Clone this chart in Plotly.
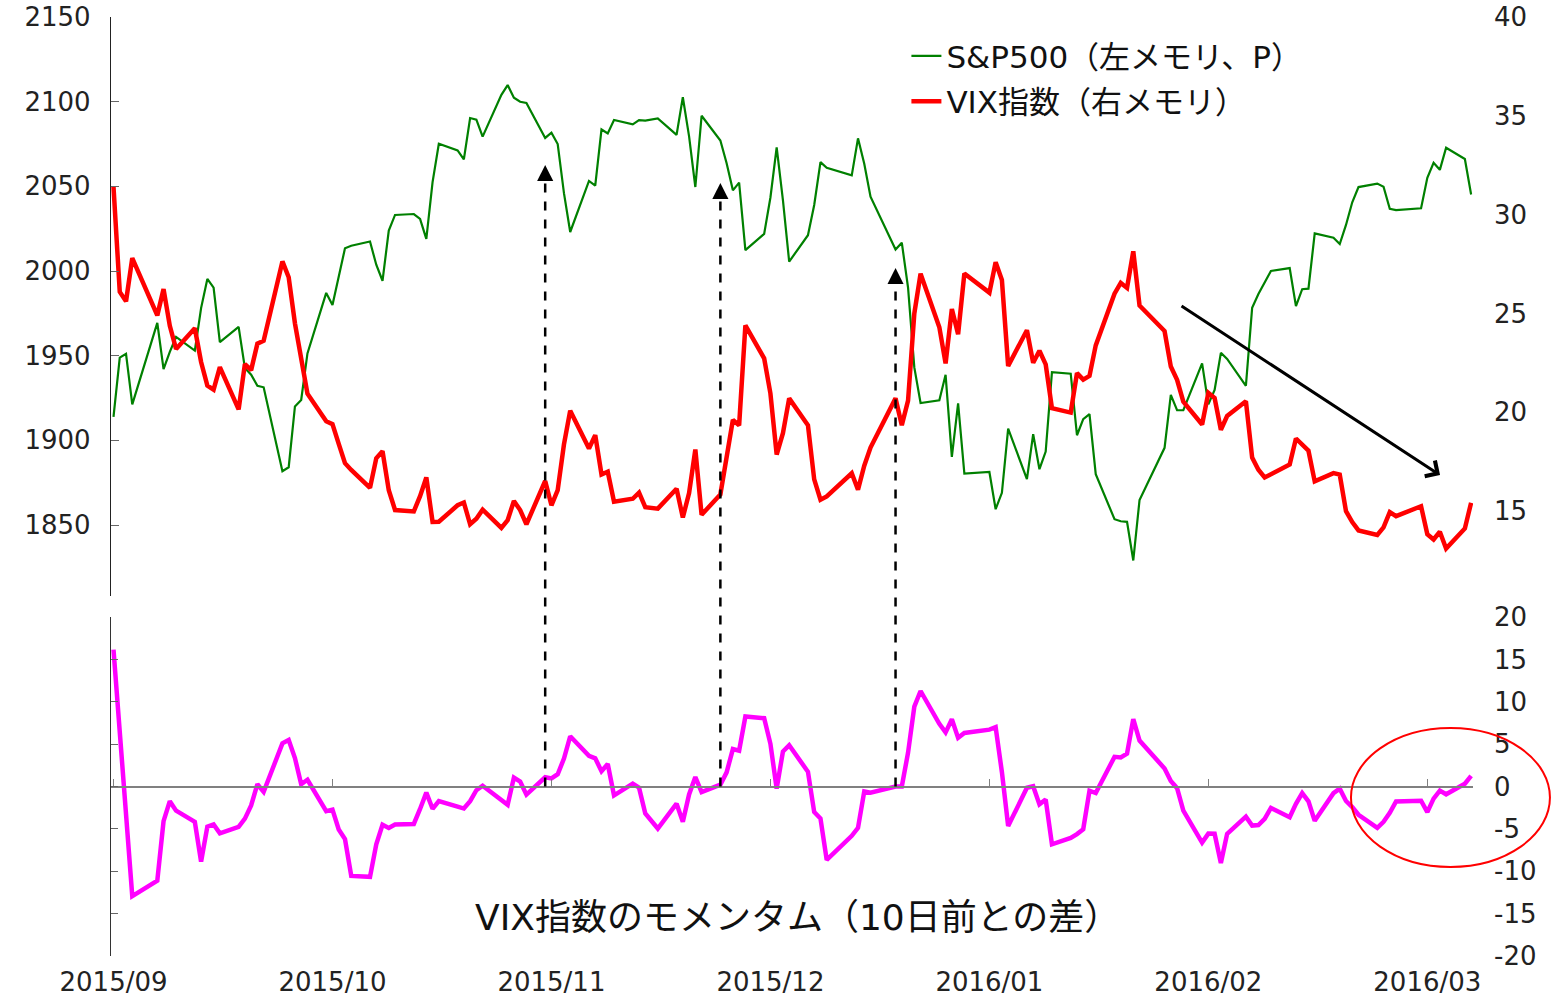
import plotly.graph_objects as go

# ---------------- data ----------------
sep_days = [1, 2, 3, 4, 8, 9, 10, 11, 14, 15, 16, 17, 18, 21, 22, 23, 24, 25, 28, 29, 30]
oct_days = [1, 2, 5, 6, 7, 8, 9, 12, 13, 14, 15, 16, 19, 20, 21, 22, 23, 26, 27, 28, 29, 30]
nov_days = [2, 3, 4, 5, 6, 9, 10, 11, 12, 13, 16, 17, 18, 19, 20, 23, 24, 25, 27, 30]
dec_days = [1, 2, 3, 4, 7, 8, 9, 10, 11, 14, 15, 16, 17, 18, 21, 22, 23, 24, 28, 29, 30, 31]
jan_days = [4, 5, 6, 7, 8, 11, 12, 13, 14, 15, 19, 20, 21, 22, 25, 26, 27, 28, 29]
feb_days = [1, 2, 3, 4, 5, 8, 9, 10, 11, 12, 16, 17, 18, 19, 22, 23, 24, 25, 26, 29]
mar_days = [1, 2, 3, 4, 7, 8, 9, 10, 11, 14, 15, 16, 17, 18, 21, 22, 23, 24, 28, 29, 30, 31]
apr_days = [1, 4, 5]

sp500 = [
    1913.85, 1948.86, 1951.13, 1921.22, 1969.41, 1942.04, 1952.29, 1961.05, 1953.03, 1978.09, 1995.31,
    1990.20, 1958.03, 1966.97, 1942.74, 1938.76, 1932.24, 1931.34, 1881.77, 1884.09, 1920.03,
    1923.82, 1951.36, 1987.05, 1979.92, 1995.83, 2013.43, 2014.89, 2017.46, 2003.69, 1994.24, 2023.86,
    2033.11, 2033.66, 2030.77, 2018.94, 2052.51, 2075.15, 2071.18, 2065.89, 2090.35, 2089.41, 2079.36,
    2104.05, 2109.79, 2102.31, 2099.93, 2099.20, 2078.58, 2081.72, 2075.00, 2045.97, 2023.04, 2053.19,
    2050.44, 2083.58, 2081.24, 2089.17, 2086.59, 2089.14, 2088.87, 2090.11, 2080.41,
    2102.63, 2079.51, 2049.62, 2091.69, 2077.07, 2063.59, 2047.62, 2052.23, 2012.37, 2021.94, 2043.41,
    2073.07, 2041.89, 2005.55, 2021.15, 2038.97, 2064.29, 2060.99, 2056.50, 2078.36, 2063.36, 2043.94,
    2012.66, 2016.71, 1990.26, 1943.09, 1922.03, 1923.67, 1938.68, 1890.28, 1921.84, 1880.33, 1881.33,
    1859.33, 1868.99, 1906.90, 1877.08, 1903.63, 1882.95, 1893.36, 1940.24,
    1939.38, 1903.03, 1912.53, 1915.45, 1880.05, 1853.44, 1852.21, 1851.86, 1829.08, 1864.78, 1895.58,
    1926.82, 1917.83, 1917.78, 1945.50, 1921.27, 1929.80, 1951.70, 1948.05, 1932.23,
    1978.35, 1986.45, 1993.40, 1999.99, 2001.76, 1979.26, 1989.26, 1989.57, 2022.19, 2019.64, 2015.93,
    2027.22, 2040.59, 2049.58, 2051.60, 2049.80, 2036.71, 2035.94, 2037.05, 2055.01, 2063.95, 2059.74,
    2072.78, 2066.13, 2045.17,
]

vix = [
    31.40, 26.09, 25.61, 27.80, 24.90, 26.23, 24.37, 23.20, 24.25, 22.54, 21.35, 21.14, 22.28, 20.14,
    22.44, 22.13, 23.47, 23.62, 27.63, 26.83, 24.50,
    22.55, 20.94, 19.54, 19.40, 18.40, 17.42, 17.08, 16.17, 17.67, 18.03, 16.05, 15.05, 14.98, 15.75,
    16.70, 14.45, 14.46, 15.29, 15.43, 14.33, 14.61, 15.07,
    14.15, 14.54, 15.51, 15.05, 14.33, 16.52, 15.29, 16.06, 18.37, 20.08, 18.16, 18.84, 16.85, 16.99,
    15.47, 15.62, 15.93, 15.19, 15.12, 16.13,
    14.67, 15.91, 18.11, 14.81, 15.84, 17.60, 19.61, 19.34, 24.39, 22.73, 20.95, 17.86, 18.94, 20.70,
    19.34, 16.60, 15.57, 15.74, 16.91, 16.08, 17.29, 18.21,
    20.70, 19.34, 20.59, 24.99, 27.01, 24.30, 22.47, 25.22, 23.95, 27.02, 26.05, 27.59, 26.69, 22.34,
    24.15, 22.50, 23.11, 22.42, 20.20,
    19.98, 21.98, 21.65, 21.84, 23.38, 26.00, 26.54, 26.29, 28.14, 25.40, 24.11, 22.31, 21.64, 20.53,
    19.38, 20.98, 20.72, 19.11, 19.81, 20.55,
    17.70, 17.09, 16.70, 16.86, 17.35, 18.67, 18.34, 18.05, 16.50, 16.92, 16.84, 14.99, 14.44, 14.02,
    13.79, 14.17, 14.94, 14.74, 15.24, 13.82, 13.56, 13.95,
    13.10, 14.12, 15.42,
]

vix_momentum = [
    16.15, 6.95, -2.42, -12.94, -11.12, -4.09, -1.73, -2.85, -4.18, -8.86, -4.74, -4.47, -5.52, -4.76,
    -3.79, -2.24, 0.27, -0.63, 5.09, 5.48, 3.36,
    0.27, 0.80, -2.90, -2.73, -5.07, -6.20, -10.55, -10.66, -6.83, -4.52, -4.89, -4.49, -4.42, -2.65,
    -0.72, -2.63, -1.71, -2.38, -2.60, -1.72, -0.44, 0.09,
    -1.60, -2.16, 1.06, 0.59, -0.96, 1.09, 0.96, 1.45, 3.30, 5.93, 3.62, 3.33, 1.80, 2.66, -1.05, 0.33,
    -0.13, -3.18, -4.96, -2.03,
    -4.17, -0.94, 1.12, -0.66, 0.22, 1.67, 4.42, 4.22, 8.26, 8.06, 5.04, -0.25, 4.13, 4.86, 1.74, -3.01,
    -3.77, -8.65, -5.82, -4.87, -0.57, -0.73,
    0.00, 0.00, 3.99, 9.42, 11.27, 7.39, 6.39, 7.93, 5.74, 6.32, 6.71, 7.00, 1.70, -4.67, -0.15, 0.03,
    -2.11, -1.53, -6.82,
    -6.07, -5.61, -5.04, -0.50, -0.77, 3.50, 3.43, 3.87, 7.94, 5.42, 2.13, 0.66, -0.20, -2.85, -6.62,
    -5.56, -5.57, -9.03, -5.59, -3.56,
    -4.61, -4.55, -3.83, -2.52, -3.63, -2.05, -0.77, -1.76, -4.05, -0.78, -0.25, -1.71, -2.42, -3.33,
    -4.88, -4.17, -3.11, -1.76, -1.68, -3.02, -1.43, -0.49,
    -0.92, 0.33, 1.25,
]

tick_dates = ["2015-09-01", "2015-10-06", "2015-11-10", "2015-12-15", "2016-01-19", "2016-02-23", "2016-03-29"]
tick_labels = ["2015/09", "2015/10", "2015/11", "2015/12", "2016/01", "2016/02", "2016/03"]

sp_ticks = [1850, 1900, 1950, 2000, 2050, 2100, 2150]
vix_ticks = [15, 20, 25, 30, 35, 40]
mom_ticks = [-20, -15, -10, -5, 0, 5, 10, 15, 20]
mom_labels = ["-20", "-15", "-10", "-5", "0", "5", "10", "15", "20"]

signal_dates = ["2015-11-09", "2015-12-07", "2016-01-04"]

# ---------------- build ----------------
months = [(2015, 9, sep_days), (2015, 10, oct_days), (2015, 11, nov_days), (2015, 12, dec_days),
          (2016, 1, jan_days), (2016, 2, feb_days), (2016, 3, mar_days), (2016, 4, apr_days)]
dates = [f"{y}-{m:02d}-{d:02d}" for y, m, days in months for d in days]

xrange = ["2015-08-31 14:24", "2016-04-05 07:12"]
num_font = dict(family="DejaVu Sans", size=26, color="#222222")
xlab_font = dict(family="DejaVu Sans", size=26, color="#222222")
jp_font = "DejaVu Sans, Noto Sans CJK JP"

fig = go.Figure()
fig.add_trace(go.Scatter(x=dates, y=sp500, mode="lines", name="S&P500（左メモリ、P）",
                         line=dict(color="#008000", width=2.2), xaxis="x", yaxis="y",
                         legendgroup="a"))
fig.add_trace(go.Scatter(x=dates, y=vix, mode="lines", name="VIX指数（右メモリ）",
                         line=dict(color="#FF0000", width=4.5), xaxis="x", yaxis="y2",
                         legendgroup="b"))
fig.add_trace(go.Scatter(x=dates, y=vix_momentum, mode="lines", showlegend=False,
                         line=dict(color="#FF00FF", width=4.5), xaxis="x2", yaxis="y3"))
fig.add_trace(go.Scatter(x=[], y=[], mode="lines", showlegend=False, xaxis="x3", yaxis="y4"))

top_dom = [0.3834, 1.0]
bot_dom = [0.0, 0.361]
zero_pos = 0.1805

fig.update_layout(
    width=1551, height=999,
    margin=dict(l=111, r=78, t=17, b=43, autoexpand=False),
    paper_bgcolor="white", plot_bgcolor="white",
    showlegend=True,
    legend=dict(x=0.584, y=0.987, xanchor="left", yanchor="top",
                font=dict(family=jp_font, size=31, color="#111111"),
                traceorder="grouped", tracegroupgap=2, bgcolor="rgba(0,0,0,0)"),
    xaxis=dict(domain=[0, 1], range=xrange, anchor="y", visible=False, type="date",
               automargin=False),
    yaxis=dict(domain=top_dom, range=[1808.1, 2150], tickvals=sp_ticks, ticks="inside",
               ticklen=8, tickcolor="#666666", showline=True, linecolor="#222222", linewidth=1.3,
               showgrid=False, zeroline=False, tickfont=num_font, ticklabelstandoff=14,
               anchor="x", automargin=False, ticklabeloverflow="allow"),
    yaxis2=dict(range=[10.7, 40], overlaying="y", side="right", anchor="x", tickvals=vix_ticks,
                ticks="", showline=False, showgrid=False, zeroline=False, tickfont=num_font,
                ticklabelstandoff=20, automargin=False, ticklabeloverflow="allow"),
    xaxis2=dict(domain=[0, 1], range=xrange, type="date", anchor="free", position=zero_pos,
                showline=True, linecolor="#808080", linewidth=1.6, ticks="inside", ticklen=7,
                tickcolor="#808080", tickvals=tick_dates, showticklabels=False, showgrid=False,
                zeroline=False, automargin=False),
    yaxis3=dict(domain=bot_dom, range=[-20, 20], anchor="x2", tickvals=mom_ticks, ticks="inside",
                ticklen=7, tickcolor="#666666", showline=True, linecolor="#333333", linewidth=1.3,
                showticklabels=False, showgrid=False, zeroline=False, automargin=False),
    xaxis3=dict(range=xrange, type="date", overlaying="x2", anchor="y3", side="bottom",
                tickvals=tick_dates, ticktext=tick_labels, ticks="", showline=False,
                showgrid=False, zeroline=False, tickfont=xlab_font, ticklabelstandoff=8,
                automargin=False, ticklabeloverflow="allow"),
    yaxis4=dict(range=[-20, 20], overlaying="y3", side="right", anchor="x3", tickvals=mom_ticks,
                ticktext=mom_labels, ticks="", showline=False, showgrid=False, zeroline=False,
                tickfont=num_font, ticklabelstandoff=20, automargin=False,
                ticklabeloverflow="allow"),
)

# dashed signal arrows from momentum zero-crossings up to the price panel
tips = [0.8424, 0.8232, 0.7327]
shapes = []
annotations = []
for d, tip in zip(signal_dates, tips):
    shapes.append(dict(type="line", xref="x2", yref="paper", x0=d, x1=d, y0=zero_pos,
                       y1=tip - 0.011, line=dict(color="black", width=2.5, dash="dash")))
    annotations.append(dict(x=d, y=tip, xref="x2", yref="paper", text="", showarrow=True,
                            ax=0, ay=12, arrowhead=2, arrowsize=1.4, arrowwidth=2.3,
                            arrowcolor="black"))

# down-trend arrow
annotations.append(dict(x=0.9758, y=0.5122, xref="paper", yref="paper", text="", showarrow=True,
                        ax=-260, ay=-170, arrowhead=4, arrowsize=1.2, arrowwidth=3,
                        arrowcolor="black"))

# red ellipse highlight
shapes.append(dict(type="circle", xref="paper", yref="paper", x0=0.9104, x1=1.0565,
                   y0=0.0948, y1=0.2428, line=dict(color="#FF0000", width=2)))

# bottom panel caption
annotations.append(dict(x=0.5037, y=0.0415, xref="paper", yref="paper",
                        text="VIX指数のモメンタム（10日前との差）", showarrow=False,
                        font=dict(family=jp_font, size=36, color="#111111"),
                        xanchor="center", yanchor="middle"))

fig.update_layout(shapes=shapes, annotations=annotations)

# remove the browser's default 8px body margin so the figure fills the window exactly
fig.write_html("out.html",
               config={"displayModeBar": False},
               post_script="document.body.style.margin='0';document.body.style.overflow='hidden';")
